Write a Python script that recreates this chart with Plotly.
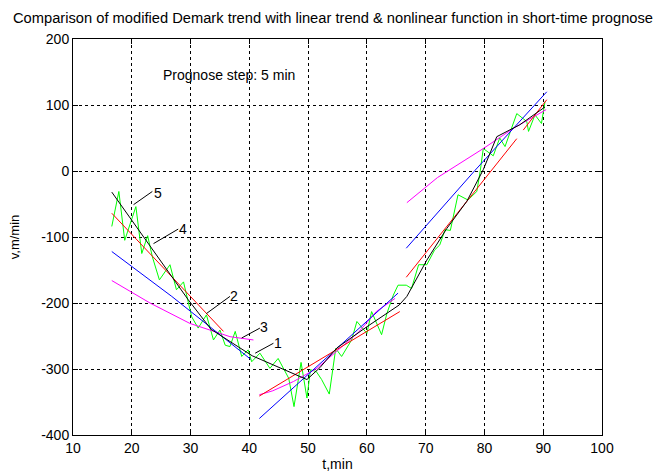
import plotly.graph_objects as go

# ---- data ----
green_t = [16.6, 17.8, 18.8, 20.7, 21.7, 22.7, 23.5, 24.7, 26.5, 27.6, 28.8, 29.6, 30.2, 31.3, 32.7,
           33.9, 35.0, 35.9, 36.7, 37.6, 38.7, 39.8, 40.4, 41.8, 43.5, 44.9, 46.7, 47.6, 48.8, 49.8,
           50.4, 51.4, 52.3, 53.6, 54.7, 55.7, 57.4, 58.3, 60.0, 60.8, 62.5, 63.4, 64.5, 65.3, 66.7,
           67.6, 68.8, 70.2, 71.5, 72.4, 73.3, 74.2, 75.5, 77.2, 78.7, 79.3, 79.8, 81.5, 82.6, 83.5,
           85.5, 87.2, 87.5, 88.6, 89.7, 90.3]
green_v = [-84, -31, -105, -54, -125, -98, -130, -165, -142, -180, -168, -200, -221, -238, -218,
           -256, -241, -264, -266, -243, -281, -271, -289, -276, -299, -284, -314, -357, -290, -344,
           -301, -304, -316, -338, -269, -281, -256, -228, -246, -213, -248, -216, -188, -173, -173,
           -178, -142, -142, -120, -112, -89, -90, -36, -44, -31, 1, 34, 23, 50, 37,
           87, 75, 60, 85, 72, 105]

black_t = [16.6, 29.6, 33.5, 40.5, 49.8, 52.0, 54.9, 60.0, 65.5, 66.8, 70.2, 73.6, 77.0, 79.8, 82.1, 86.0, 90.3]
black_v = [-32, -195, -240, -280, -316, -298, -268, -236, -203, -190, -135, -87, -46, 2, 52, 70, 97]

red_t = [16.6, 35.6, None, 41.7, 65.6, None, 66.7, 85.5, None, 86.6, 90.6]
red_v = [-64, -243, None, -341, -213, None, -161, 49, None, 62, 108]

blue_t = [16.6, 26.8, 40.2, None, 41.7, 65.3, None, 66.7, 78.4, 90.6]
blue_v = [-122, -190, -285, None, -375, -185, None, -117, 1, 120]

magenta_t = [16.6, 23.1, 29.9, 36.7, 40.7, None, 41.7, 44.0, 47.5, 51.5, 55.0, 58.5, 61.6, 64.8,
             None, 66.8, 72.0, 79.8, 85.0, 90.5]
magenta_v = [-166, -200, -231, -251, -256, None, -339, -333, -319, -299, -272, -245, -213, -193,
             None, -48, -10, 34, 65, 93]

# numbered labels and their leader lines
label_names = ["5", "4", "2", "3", "1"]
label_text_t = [24.4, 28.7, 37.4, 42.5, 44.8]
label_text_v = [-33, -88, -189, -237, -260]
leader_t0 = [23.5, 27.9, 36.7, 41.8, 44.1]
leader_v0 = [-31, -88, -190, -238, -261]
leader_t1 = [20.3, 23.7, 32.7, 38.7, 41.0]
leader_v1 = [-51, -110, -216, -253, -276]

x_ticks = [10, 20, 30, 40, 50, 60, 70, 80, 90, 100]
y_ticks = [-400, -300, -200, -100, 0, 100, 200]

title_text = "Comparison of modified Demark trend with linear trend &amp; nonlinear function in short-time prognose"
note_text = "Prognose step: 5 min"

FONT = "Liberation Sans"

# ---- figure ----
fig = go.Figure()

def add_line(t, v, color):
    fig.add_trace(go.Scatter(x=t, y=v, mode="lines", line=dict(color=color, width=1),
                             connectgaps=False, showlegend=False, hoverinfo="skip"))

add_line(green_t, green_v, "#00ff00")
add_line(magenta_t, magenta_v, "#ff00ff")
add_line(blue_t, blue_v, "#0000ff")
add_line(red_t, red_v, "#ff0000")
add_line(black_t, black_v, "#000000")

lead_x, lead_y = [], []
for a, b, c, d in zip(leader_t0, leader_v0, leader_t1, leader_v1):
    lead_x += [a, c, None]
    lead_y += [b, d, None]
add_line(lead_x, lead_y, "#000000")

for name, tx, ty in zip(label_names, label_text_t, label_text_v):
    fig.add_annotation(x=tx, y=ty, text=name, showarrow=False, xanchor="center", yanchor="middle",
                       font=dict(size=14, color="black", family=FONT))

fig.add_annotation(x=25.0, y=145, text=note_text, showarrow=False, xanchor="left", yanchor="middle",
                   font=dict(size=14, color="black", family=FONT))

axis_common = dict(
    showline=True, linecolor="black", linewidth=1, mirror="ticks",
    ticks="inside", ticklen=5, tickcolor="black",
    showgrid=True, gridcolor="black", gridwidth=1, griddash="3px,3px",
    zeroline=False, automargin=False,
    tickfont=dict(size=14, color="black", family=FONT),
)

fig.update_xaxes(range=[10, 100], tickvals=x_ticks, ticktext=[str(v) for v in x_ticks],
                 title=dict(text="t,min", font=dict(size=14, color="black", family=FONT), standoff=4),
                 **axis_common)
fig.update_yaxes(range=[-400, 200], tickvals=y_ticks, ticktext=[str(v) for v in y_ticks],
                 title=dict(text="v,m/min", font=dict(size=13, color="black", family=FONT), standoff=18),
                 **axis_common)

fig.update_layout(
    width=662, height=474,
    margin=dict(l=73, r=60, t=39, b=39, autoexpand=False),
    paper_bgcolor="white", plot_bgcolor="white",
    title=dict(text=title_text, x=333 / 662, xanchor="center", xref="container",
               y=1 - 18 / 474, yref="container", yanchor="middle",
               font=dict(size=14.7, color="black", family=FONT)),
    showlegend=False,
)

fig.write_html("out.html", config={"displayModeBar": False},
               post_script="document.body.style.margin='0px';document.body.style.padding='0px';")
